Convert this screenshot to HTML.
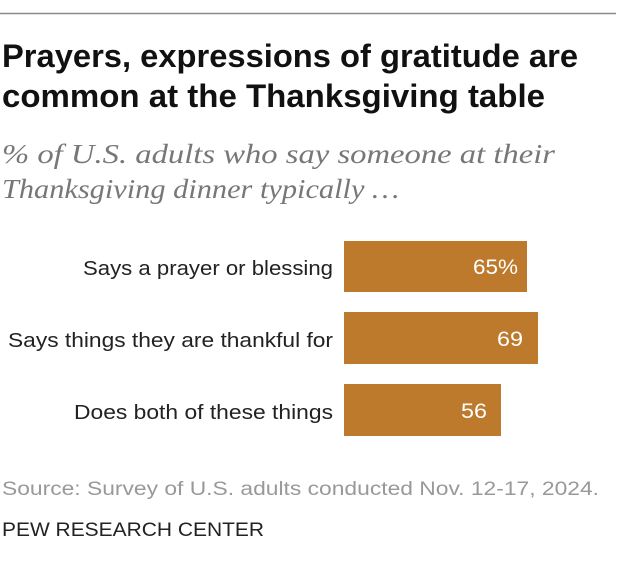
<!DOCTYPE html>
<html><head><meta charset="utf-8"><style>
html,body{margin:0;padding:0;background:#fff;}
svg{display:block;}
</style></head><body>
<svg width="620" height="584" viewBox="0 0 620 584" xmlns="http://www.w3.org/2000/svg">
<rect width="620" height="584" fill="#fff"/>
<line x1="0" y1="13.5" x2="616" y2="13.5" stroke="#8a8a8a" stroke-width="1.5"/>
<g font-family="'Liberation Sans Narrow','Liberation Sans',sans-serif" font-weight="bold" font-size="32" fill="#111">
<text x="2" y="67" textLength="576" lengthAdjust="spacingAndGlyphs">Prayers, expressions of gratitude are</text>
<text x="2" y="107" textLength="543" lengthAdjust="spacingAndGlyphs">common at the Thanksgiving table</text>
</g>
<g font-family="'Liberation Serif',serif" font-style="italic" font-size="27" fill="#777">
<text x="2" y="163" textLength="553" lengthAdjust="spacingAndGlyphs">% of U.S. adults who say someone at their</text>
<text x="2" y="198" textLength="397" lengthAdjust="spacingAndGlyphs">Thanksgiving dinner typically …</text>
</g>
<g fill="#bd7a2c">
<rect x="344" y="241" width="183" height="51"/>
<rect x="344" y="312" width="194" height="52"/>
<rect x="344" y="384" width="157" height="52"/>
</g>
<g font-family="'Liberation Sans',sans-serif" font-size="21" fill="#fff">
<text x="473" y="274" textLength="45" lengthAdjust="spacingAndGlyphs">65%</text>
<text x="497" y="346" textLength="26" lengthAdjust="spacingAndGlyphs">69</text>
<text x="461" y="418" textLength="26" lengthAdjust="spacingAndGlyphs">56</text>
</g>
<g font-family="'Liberation Sans',sans-serif" font-size="20.5" fill="#222">
<text x="83" y="275" textLength="250" lengthAdjust="spacingAndGlyphs">Says a prayer or blessing</text>
<text x="8" y="347" textLength="325" lengthAdjust="spacingAndGlyphs">Says things they are thankful for</text>
<text x="74" y="419" textLength="259" lengthAdjust="spacingAndGlyphs">Does both of these things</text>
</g>
<text x="2" y="495" font-family="'Liberation Sans',sans-serif" font-size="19" fill="#999" textLength="597" lengthAdjust="spacingAndGlyphs">Source: Survey of U.S. adults conducted Nov. 12-17, 2024.</text>
<text x="2" y="536" font-family="'Liberation Sans',sans-serif" font-size="19" fill="#222" textLength="262" lengthAdjust="spacingAndGlyphs">PEW RESEARCH CENTER</text>
</svg>
</body></html>
